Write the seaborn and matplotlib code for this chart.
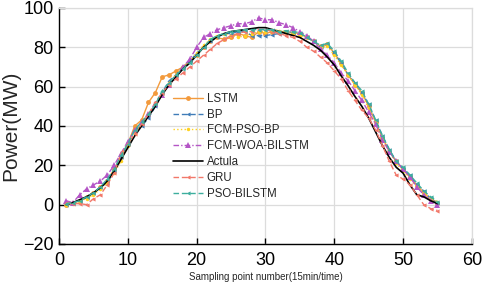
import numpy as np
import pandas as pd
import seaborn as sns
import matplotlib.pyplot as plt

sns.set_theme(style="whitegrid")
plt.rcParams["font.family"] = ["Liberation Sans", "DejaVu Sans"]

x = list(range(1, 56))

lstm = [0, 1, 2, 4, 6, 9, 12, 18, 24, 31,
        40, 43, 52, 57, 65, 66, 68, 70, 73, 76,
        80, 83, 85, 84, 85, 87, 86, 85, 88, 87,
        88, 88, 88, 87.5, 87, 85, 83, 80.5, 81.5, 77,
        72, 66, 61, 57, 50, 42, 34, 27, 22, 18,
        14, 10, 6, 3, 1]
bp = [0, 1, 2, 3.5, 6, 9, 11, 17, 24, 31,
      38, 40, 44, 50, 57, 63, 66, 70, 73, 77,
      80, 83, 85, 87, 87, 88, 88, 86, 86, 86,
      86.5, 87, 88, 87.5, 87, 85, 83, 80, 81, 77,
      72, 66, 62, 57, 51, 43, 35, 28, 22, 18,
      15, 10, 7, 3, 1]
fcm_pso_bp = [0, 0.5, 2, 3, 5, 8, 11, 16, 22, 30,
              36, 41, 46, 51, 56, 62, 66, 70, 73, 77,
              81, 84, 86, 87, 86, 85, 86, 87, 88, 88,
              89, 88.5, 88, 87, 86, 85, 83, 80, 80.5, 76,
              71, 66, 61, 56, 49, 42, 34, 27, 21, 17,
              13, 9, 6, 3, 1.5]
fcm_woa = [2, 1, 5, 8, 10, 12, 15, 20, 26, 32,
           38, 42, 46, 51, 56, 61, 65, 70, 74, 80,
           85, 87, 89, 90, 91, 92, 92, 93, 95, 94,
           94, 92.5, 91.5, 90, 88, 86, 83, 79, 76, 72,
           67, 63, 58, 53, 47, 41, 33, 27, 22, 18,
           14, 9, 5, 2, 0]
actual = [0, 1, 2.5, 4, 6, 8.5, 12, 17, 23, 29,
          35, 40, 45, 50, 56, 61, 65, 69, 72, 76,
          80, 83, 85.5, 87, 88, 88.5, 89, 89.5, 90, 90,
          89, 88, 87, 86, 85, 83, 81, 78.5, 75, 71,
          65.5, 60.5, 55, 50, 44, 37, 30, 24, 19, 16,
          10, 5, 4, 2, 0.5]
gru = [1, 0.5, 0.5, 0, 3, 5, 10, 16, 26, 31,
       36, 41, 46, 52, 57, 61, 64, 67, 70, 73,
       76, 79, 82, 84, 86, 87, 88, 88, 89, 89,
       88, 87, 86, 85, 83, 80, 78, 75, 72, 68,
       64, 58, 53, 48, 44, 38, 30, 22, 15, 13,
       10, 5, 0, -2, -3]
pso_bilstm = [0.5, 1, 2, 4, 6, 9, 13, 18, 25, 31,
              38, 42, 46, 51, 58, 62, 66, 69, 72, 76,
              80, 84, 86, 87, 88, 88.5, 89, 89, 89, 89,
              89, 88, 88.5, 88, 87.5, 85, 83, 81, 82, 78,
              73, 67, 62, 58, 51, 43, 35, 28, 22, 19,
              15, 11, 7, 4, 1.5]

series = [
    ("LSTM", lstm, "#F39A3C", "-", "o", 3.5),
    ("BP", bp, "#3F7CB8", (0, (4, 2)), "<", 3),
    ("FCM-PSO-BP", fcm_pso_bp, "#FFD21F", ":", "o", 2.5),
    ("FCM-WOA-BILSTM", fcm_woa, "#B455C6", (0, (4, 1.5, 1, 1.5)), "^", 4),
    ("Actula", actual, "black", "-", None, 0),
    ("GRU", gru, "#F2786A", (0, (4, 2)), "<", 3),
    ("PSO-BILSTM", pso_bilstm, "#3DAE9E", (0, (4, 2)), "<", 3),
]

fig = plt.figure(figsize=(4.84, 2.85), dpi=100)
ax = fig.add_axes([0.122, 0.144, 0.853, 0.828])

for name, vals, color, ls, marker, ms in series:
    df = pd.DataFrame({"x": x, "y": vals})
    sns.lineplot(data=df, x="x", y="y", ax=ax, color=color, linestyle=ls,
                 marker=marker, markersize=ms, markeredgewidth=0,
                 linewidth=1.2 if name == "Actula" else 1.0, label=name)

ax.set_xlim(0, 60)
ax.set_ylim(-20, 100)
ax.set_xticks(range(0, 61, 10))
ax.set_yticks(range(-20, 101, 20))
ax.grid(True, color="#dcdcdc", linewidth=0.9)
ax.tick_params(axis="both", direction="in", length=4, width=1, labelsize=13,
               colors="black")
ax.tick_params(axis="x", pad=6)
ax.tick_params(axis="y", pad=4)
ax.tick_params(top=False, right=False, bottom=True, left=True)
for s in ["left", "bottom"]:
    ax.spines[s].set_color("black")
    ax.spines[s].set_linewidth(1.0)
for s in ["top", "right"]:
    ax.spines[s].set_color("#dcdcdc")
    ax.spines[s].set_linewidth(0.9)

ax.set_xlabel("Sampling point number(15min/time)", fontsize=7, labelpad=2)
ax.set_ylabel("Power(MW)", fontsize=15, labelpad=2)

ax.legend(loc="upper left", bbox_to_anchor=(0.264, 0.66), frameon=False,
          fontsize=8.3, handlelength=2.6, handletextpad=0.35,
          labelspacing=0.33, borderaxespad=0, borderpad=0.4)

fig.savefig("out.png", dpi=100)
